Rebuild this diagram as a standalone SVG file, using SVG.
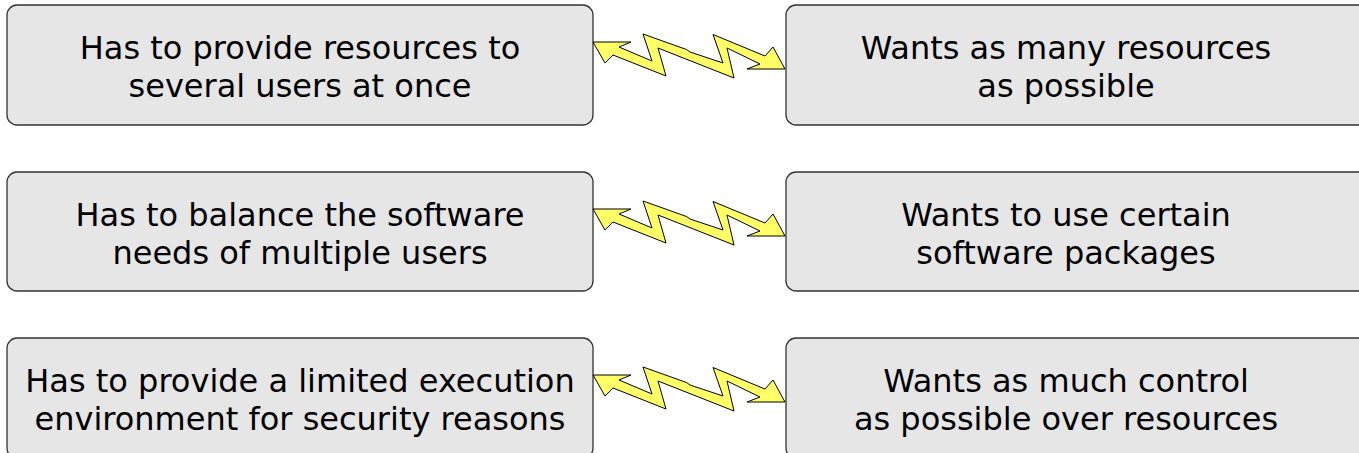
<svg xmlns="http://www.w3.org/2000/svg" width="1359" height="453" viewBox="0 0 1359 453">
<style>
.box{fill:#e6e6e6;stroke:#333333;stroke-width:1.3}
.t{font-family:"DejaVu Sans","Liberation Sans",sans-serif;font-size:32px;fill:#000;text-anchor:middle}
.bolt{fill:#ffff66;stroke:#000;stroke-width:1;stroke-linejoin:miter}
</style>
<defs>
<polygon id="boltShape" class="bolt" points="593,42 631,42 619,47 652,61 643,34 686.5,49.5 690,52 723,63 713,34.5 765,56 773,47 785,69 747,69 760,64 727,48 734,78 658,48 666,76 613,55 605,63"/>
</defs>
<g id="node-l1"><rect class="box" x="7" y="5" width="586" height="120" rx="10"/><text class="t" x="300" y="59">Has to provide resources to</text><text class="t" x="300" y="97">several users at once</text></g>
<g id="node-r1"><rect class="box" x="786" y="5" width="600" height="120" rx="10"/><text class="t" x="1066" y="59">Wants as many resources</text><text class="t" x="1066" y="97">as possible</text></g>
<g id="node-l2"><rect class="box" x="7" y="172" width="586" height="119" rx="10"/><text class="t" x="300" y="226">Has to balance the software</text><text class="t" x="300" y="264">needs of multiple users</text></g>
<g id="node-r2"><rect class="box" x="786" y="172" width="600" height="119" rx="10"/><text class="t" x="1066" y="226">Wants to use certain</text><text class="t" x="1066" y="264">software packages</text></g>
<g id="node-l3"><rect class="box" x="7" y="338" width="586" height="120" rx="10"/><text class="t" x="300" y="392">Has to provide a limited execution</text><text class="t" x="300" y="430">environment for security reasons</text></g>
<g id="node-r3"><rect class="box" x="786" y="338" width="600" height="120" rx="10"/><text class="t" x="1066" y="392">Wants as much control</text><text class="t" x="1066" y="430">as possible over resources</text></g>
<g id="connectors">
<use href="#boltShape"/>
<use href="#boltShape" transform="translate(0,167)"/>
<use href="#boltShape" transform="translate(0,333)"/>
</g>
</svg>
